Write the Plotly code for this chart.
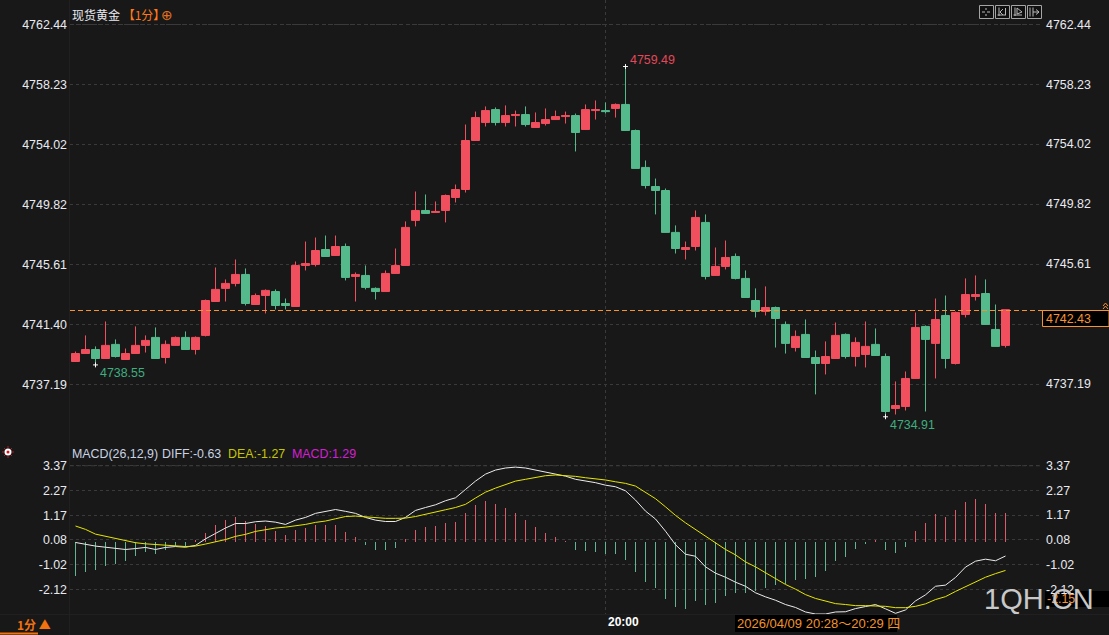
import plotly.graph_objects as go

opens = [4738.79,4739.35,4739.63,4739.00,4739.99,4738.93,4739.35,4739.92,4740.48,4739.07,
4739.92,4740.48,4739.63,4740.62,4743.00,4743.92,4744.27,4744.90,4742.79,4743.42,
4743.70,4742.86,4742.65,4745.53,4745.60,4746.65,4746.23,4746.86,4744.76,4744.83,
4743.92,4743.70,4744.97,4745.53,4748.69,4749.39,4749.25,4749.39,4750.30,4750.86,
4754.30,4755.56,4756.47,4755.56,4756.05,4756.12,4755.21,4755.49,4755.77,4755.98,
4756.05,4755.07,4756.40,4756.40,4756.55,4756.83,4755.00,4752.41,4751.07,4750.79,
4747.85,4746.65,4746.86,4748.55,4744.83,4745.46,4746.16,4744.62,4743.07,4742.30,
4742.58,4741.39,4739.77,4740.69,4739.07,4738.65,4739.00,4740.69,4739.14,4739.28,
4739.99,4739.14,4735.49,4735.63,4737.60,4741.25,4740.06,4742.02,4738.65,4742.09,
4743.35,4743.56,4741.04,4739.92]
highs = [4739.49,4740.62,4739.85,4741.60,4740.34,4739.70,4741.25,4740.62,4741.18,4740.27,
4740.55,4740.90,4740.55,4743.14,4745.39,4744.55,4745.95,4745.32,4743.56,4743.85,
4743.85,4743.21,4745.81,4747.21,4747.49,4747.63,4747.63,4747.07,4745.04,4745.53,
4743.99,4745.18,4746.72,4748.62,4750.72,4750.51,4750.02,4750.51,4751.21,4755.42,
4756.33,4756.69,4756.62,4756.76,4756.40,4756.69,4756.27,4756.55,4756.40,4756.33,
4756.19,4756.83,4757.11,4756.97,4756.90,4759.49,4755.07,4752.90,4751.63,4750.93,
4748.34,4747.21,4749.39,4749.11,4746.79,4747.28,4746.37,4745.18,4743.92,4744.06,
4742.65,4741.60,4740.97,4741.74,4739.56,4740.20,4741.53,4740.76,4740.48,4741.60,
4741.11,4739.35,4737.39,4738.09,4742.23,4741.32,4743.21,4743.42,4742.30,4744.62,
4744.83,4744.55,4742.79,4742.43]
lows = [4738.79,4739.35,4738.55,4739.00,4739.07,4738.93,4739.35,4739.42,4739.00,4738.65,
4739.92,4739.63,4739.28,4740.55,4743.00,4743.00,4744.06,4742.72,4742.79,4742.16,
4742.44,4742.44,4742.65,4745.18,4745.46,4746.16,4746.23,4744.48,4743.00,4743.85,
4743.14,4743.70,4744.97,4745.53,4748.27,4749.18,4749.25,4748.55,4749.95,4750.65,
4754.30,4755.28,4755.35,4755.28,4755.28,4755.28,4755.21,4755.35,4755.77,4755.49,
4753.53,4755.07,4755.77,4756.19,4755.91,4755.00,4752.34,4750.93,4749.11,4747.85,
4746.37,4745.95,4746.58,4744.55,4744.83,4745.25,4744.55,4743.28,4741.88,4742.02,
4739.77,4739.35,4739.49,4739.07,4736.48,4737.88,4739.00,4739.00,4738.44,4738.37,
4739.21,4734.91,4735.07,4735.35,4737.60,4735.28,4737.60,4738.30,4738.58,4741.88,
4743.07,4741.39,4739.85,4739.77]
closes = [4739.35,4739.63,4739.00,4739.92,4739.14,4739.35,4739.92,4740.27,4739.00,4739.99,
4740.48,4739.63,4740.48,4743.07,4743.85,4744.27,4744.90,4742.86,4743.42,4743.78,
4742.72,4742.72,4745.53,4745.67,4746.58,4746.16,4746.86,4744.69,4744.90,4743.99,
4743.70,4744.97,4745.53,4748.20,4749.39,4749.18,4749.32,4750.44,4750.86,4754.30,
4755.91,4756.40,4755.56,4756.05,4756.12,4755.42,4755.56,4755.77,4755.98,4756.05,
4754.86,4756.47,4756.47,4756.33,4756.83,4755.00,4752.34,4751.14,4750.79,4747.85,
4746.72,4746.79,4748.90,4744.76,4745.46,4746.09,4744.62,4743.28,4742.30,4742.58,
4741.81,4740.06,4740.55,4739.07,4738.65,4739.14,4740.62,4739.14,4740.13,4739.85,
4739.21,4735.28,4735.70,4737.60,4741.18,4740.34,4741.74,4739.00,4742.23,4743.49,
4743.49,4741.39,4739.85,4742.43]

diff = [-0.03,-0.12,-0.19,-0.24,-0.30,-0.34,-0.30,-0.25,-0.34,-0.25,-0.21,-0.24,-0.16,0.13,0.37,0.61,0.81,0.81,0.89,0.92,
0.87,0.77,0.96,1.08,1.26,1.33,1.43,1.35,1.26,1.08,0.96,0.90,0.90,1.08,1.39,1.52,1.64,1.82,1.95,2.32,
2.69,3.00,3.18,3.27,3.31,3.27,3.18,3.09,3.00,2.91,2.77,2.71,2.62,2.51,2.44,2.26,1.85,1.36,1.01,0.47,
-0.13,-0.55,-0.64,-1.11,-1.39,-1.57,-1.79,-1.97,-2.26,-2.44,-2.59,-2.78,-2.91,-3.11,-3.20,-3.20,-3.11,-3.10,-2.96,-2.87,
-2.78,-2.97,-3.17,-3.02,-2.62,-2.35,-1.97,-1.92,-1.58,-1.12,-0.86,-0.77,-0.84,-0.63]
dea = [0.70,0.55,0.34,0.25,0.15,0.04,-0.04,-0.09,-0.13,-0.16,-0.18,-0.21,-0.19,-0.10,-0.01,0.10,0.24,0.33,0.46,0.55,
0.61,0.65,0.70,0.77,0.86,0.92,1.02,1.12,1.14,1.11,1.05,1.04,1.04,1.05,1.12,1.21,1.30,1.42,1.52,1.66,
1.94,2.20,2.38,2.54,2.69,2.77,2.86,2.93,2.96,2.94,2.90,2.84,2.80,2.74,2.66,2.59,2.47,2.20,1.91,1.55,
1.17,0.84,0.55,0.25,-0.04,-0.34,-0.58,-0.89,-1.11,-1.36,-1.63,-1.89,-2.10,-2.34,-2.51,-2.63,-2.74,-2.78,-2.83,-2.83,
-2.83,-2.86,-2.92,-2.92,-2.86,-2.75,-2.56,-2.43,-2.20,-2.00,-1.80,-1.57,-1.41,-1.27]
macd = [-1.51,-1.35,-1.26,-1.08,-0.99,-0.86,-0.64,-0.46,-0.52,-0.37,-0.19,-0.22,0.04,0.38,0.74,0.96,1.09,0.92,0.78,0.70,
0.47,0.30,0.52,0.61,0.74,0.74,0.74,0.43,0.21,-0.15,-0.37,-0.37,-0.28,0.12,0.52,0.64,0.70,0.83,0.87,1.27,
1.63,1.80,1.67,1.49,1.27,0.96,0.65,0.38,0.21,0.03,-0.37,-0.41,-0.46,-0.55,-0.55,-0.81,-1.35,-1.79,-2.06,-2.54,
-2.88,-2.99,-2.63,-2.81,-2.72,-2.41,-2.28,-2.28,-2.19,-2.06,-1.92,-1.88,-1.70,-1.66,-1.57,-1.30,-0.86,-0.68,-0.34,-0.10,
0.07,-0.37,-0.50,-0.24,0.47,0.83,1.23,1.09,1.41,1.76,1.89,1.67,1.27,1.29]

price_ticks = [4762.44,4758.23,4754.02,4749.82,4745.61,4741.40,4737.19]
macd_ticks = [3.37,2.27,1.17,0.08,-1.02,-2.12]
last_price = 4742.43
extremes_x = [55,2,81]
extremes_y = [4759.49,4738.55,4734.91]
time_tick_index = 53

BG = "#181818"; RED = "#f14e5e"; GREEN = "#54ba8c"; ORANGE = "#f79232"
W, H = 1109, 635
L, R, BOT = 70, 1040, 614
FONT = "Liberation Sans, Noto Sans CJK SC, sans-serif"
TS = 12.4
TC = "#e8eaf0"
xs = list(range(len(closes)))

def px(x): return (x - L) / (R - L)
def py(y): return (BOT - y) / BOT

fig = go.Figure()
fig.add_trace(go.Candlestick(x=xs, open=opens, high=highs, low=lows, close=closes,
    increasing=dict(line=dict(color=RED, width=1), fillcolor=RED),
    decreasing=dict(line=dict(color=GREEN, width=1), fillcolor=GREEN),
    whiskerwidth=0, xaxis="x", yaxis="y"))
fig.add_trace(go.Scatter(x=extremes_x, y=extremes_y, mode="markers", xaxis="x", yaxis="y",
    marker=dict(symbol="cross-thin", size=3.5, line=dict(color="#ffffff", width=1))))
fig.add_trace(go.Bar(x=xs, y=macd, width=0.1, xaxis="x", yaxis="y2",
    marker=dict(color=["#dd5a6b" if v >= 0 else "#62b592" for v in macd], line=dict(width=0))))
fig.add_trace(go.Scatter(x=xs, y=diff, mode="lines", xaxis="x", yaxis="y2", line=dict(color="#ececec", width=1)))
fig.add_trace(go.Scatter(x=xs, y=dea, mode="lines", xaxis="x", yaxis="y2", line=dict(color="#e6e600", width=1)))

ann = []
def text(x, y, s, color=TC, size=TS, anchor="left", **kw):
    ann.append(dict(xref="paper", yref="paper", x=px(x), y=py(y), text=s, showarrow=False, xanchor=anchor,
                    yanchor="middle", borderpad=0, font=dict(family=kw.pop("family", FONT), size=size, color=color), **kw))

for v in price_ticks:
    if v != 4741.40:
        ann.append(dict(xref="paper", yref="y", x=px(1044.5), y=v, text=f"{v:.2f}", showarrow=False, xanchor="left",
                        borderpad=0, font=dict(family=FONT, size=TS, color=TC)))
for v in macd_ticks:
    ann.append(dict(xref="paper", yref="y2", x=px(1044.5), y=v, text=f"{v:.2f}", showarrow=False, xanchor="left",
                    borderpad=0, font=dict(family=FONT, size=TS, color=TC)))

text(71, 14, '现货黄金 <span style="color:#ff7a1a">【1分】</span>', family="Noto Sans CJK SC, sans-serif", size=12)
text(167, 15, "⊕", color="#e0711f", size=14, anchor="center", family="DejaVu Sans")
text(71, 454, "MACD(26,12,9)", color="#c9d3e2")
text(160.5, 454, "DIFF:-0.63", color="#c9d3e2")
text(226.5, 454, "DEA:-1.27", color="#c6c600")
text(290.5, 454, "MACD:1.29", color="#d41fd4")
ann.append(dict(xref="x", yref="y", x=55, y=4759.49, text="4759.49", showarrow=False, xanchor="left", xshift=2, yshift=7,
                font=dict(family=FONT, size=TS, color="#e2485a")))
ann.append(dict(xref="x", yref="y", x=2, y=4738.55, text="4738.55", showarrow=False, xanchor="left", xshift=2, yshift=-8,
                font=dict(family=FONT, size=TS, color="#3fae80")))
ann.append(dict(xref="x", yref="y", x=81, y=4734.91, text="4734.91", showarrow=False, xanchor="left", xshift=2, yshift=-8,
                font=dict(family=FONT, size=TS, color="#3fae80")))
ann.append(dict(xref="x", yref="paper", x=time_tick_index, y=py(622), text="<b>20:00</b>", showarrow=False, xanchor="left",
                yanchor="middle", xshift=0, font=dict(family=FONT, size=12, color="#ffffff")))
text(16, 624, "<b>1分 ▲</b>", color="#f2720f", size=12, family="Noto Sans CJK SC, sans-serif")
text(736, 623, "2026/04/09 20:28～20:29 四", color="#f0932b", size=13)
text(1045, 318.5, f"{last_price:.2f}", color=ORANGE)
text(1046, 599, "-2.15", color=ORANGE)
text(983, 599, "1QH.CN", color="#c8c8c8", size=29)

def box(x0, y0, x1, y1, fill, line=None, w=1):
    return dict(type="rect", xref="paper", yref="paper", x0=px(x0), x1=px(x1), y0=py(y0), y1=py(y1), fillcolor=fill,
                line=dict(color=line, width=w) if line else dict(width=0), layer="above")
def seg(x0, y0, x1, y1, color, w=1, dash="solid"):
    return dict(type="line", xref="paper", yref="paper", x0=px(x0), x1=px(x1), y0=py(y0), y1=py(y1),
                line=dict(color=color, width=w, dash=dash), layer="above")

shapes = [
    seg(69.5, 0, 69.5, 635, "#202020"),
    seg(0, 614.5, 1109, 614.5, "#202020"),
    dict(type="line", xref="paper", yref="y", x0=0, x1=px(1041), y0=price_ticks[0], y1=price_ticks[0], line=dict(color="#3a3a3a", width=1, dash="4px,3px"), layer="below"),
    dict(type="line", xref="paper", yref="y2", x0=0, x1=1, y0=macd_ticks[0], y1=macd_ticks[0], line=dict(color="#3a3a3a", width=1, dash="4px,3px"), layer="below"),
    seg(70, 310.5, 1043, 310.5, ORANGE, 1, "5px,3px"),
    box(1042.5, 310.5, 1109, 326.5, "#000000", ORANGE),
    box(1045, 591, 1109, 607, "#000000"),
    box(735, 615, 897, 632, "#000000"),
    seg(0, 633.5, 38, 633.5, "#f2720f", 2),
    seg(1103, 306, 1105.5, 303, ORANGE), seg(1105.5, 303, 1108, 306, ORANGE),
    seg(1103, 309, 1105.5, 306, ORANGE), seg(1105.5, 306, 1108, 309, ORANGE),
    dict(type="circle", xref="paper", yref="paper", x0=px(4.5), x1=px(11.5), y0=py(448.5), y1=py(455.5), fillcolor="#ffffff", line=dict(width=0), layer="above"),
    dict(type="circle", xref="paper", yref="paper", x0=px(6.5), x1=px(9.5), y0=py(450.5), y1=py(453.5), fillcolor="#e0101c", line=dict(width=0), layer="above"),
    seg(2, 452, 4, 452, "#c01018"), seg(12, 452, 14, 452, "#c01018"), seg(8, 446, 8, 448, "#c01018"), seg(8, 456, 8, 458, "#c01018"),
    seg(4, 448, 5, 449, "#c01018"), seg(11, 455, 12, 456, "#c01018"), seg(12, 448, 11, 449, "#c01018"), seg(5, 455, 4, 456, "#c01018"),
]
for x0 in (979, 995, 1011, 1027):
    shapes.append(box(x0 + .5, 5.5, x0 + 14.5, 18.5, "#101010", "#a5a5a5"))
G = "#b8b8b8"
shapes += [seg(982, 12, 985, 12, G), seg(987, 12, 990, 12, G), seg(986, 8, 986, 10, G), seg(986, 14, 986, 16, G),
           seg(999, 7.5, 999, 16, G), seg(997.5, 15, 1006, 15, G), seg(1000, 12, 1003, 9, G), seg(1000, 12, 1003, 15, G), seg(1005.5, 8, 1005.5, 15, G),
           seg(1015, 7.5, 1015, 16, G), seg(1013.5, 15, 1022, 15, G), seg(1017, 8, 1022, 12, G), seg(1017, 8, 1017, 14, G), seg(1017, 14, 1022, 12, G),
           seg(1030, 7.5, 1030, 16.5, G), seg(1033, 7.5, 1033, 16.5, G), seg(1033, 12, 1039, 12, G), seg(1036, 9.5, 1039, 12, G), seg(1036, 14.5, 1039, 12, G)]

fig.update_layout(
    width=W, height=H, paper_bgcolor=BG, plot_bgcolor=BG, showlegend=False,
    margin=dict(l=L, r=W - R, t=0, b=H - BOT, pad=0, autoexpand=False),
    boxgap=0.2, boxgroupgap=0, bargap=0, hovermode=False,
    annotations=ann, shapes=shapes,
    xaxis=dict(domain=[0, 1], range=[-0.55, 96.45], anchor="y2", rangeslider=dict(visible=False),
               showticklabels=False, ticks="", tickvals=[time_tick_index], showgrid=True, griddash="dot",
               gridcolor="#3a3a3a", gridwidth=1, zeroline=False, showline=False),
    yaxis=dict(domain=[py(445), 1], range=[4732.93, 4764.16], anchor="x", tickvals=price_ticks,
               ticktext=[f"{v:.2f}" for v in price_ticks], showgrid=True, griddash="dot", gridcolor="#3a3a3a",
               gridwidth=1, zeroline=False, showline=False, ticks="", ticklabelstandoff=2,
               tickfont=dict(family=FONT, size=TS, color=TC)),
    yaxis2=dict(domain=[0, py(445)], range=[-3.20, 4.29], anchor="x", tickvals=macd_ticks,
                ticktext=[f"{v:.2f}" for v in macd_ticks], showgrid=True, griddash="dot", gridcolor="#3a3a3a",
                gridwidth=1, zeroline=False, showline=False, ticks="", ticklabelstandoff=2,
                tickfont=dict(family=FONT, size=TS, color=TC)),
)
fig.write_html("out.html", config=dict(displayModeBar=False),
               post_script="document.body.style.margin='0';document.body.style.background='#181818';")
